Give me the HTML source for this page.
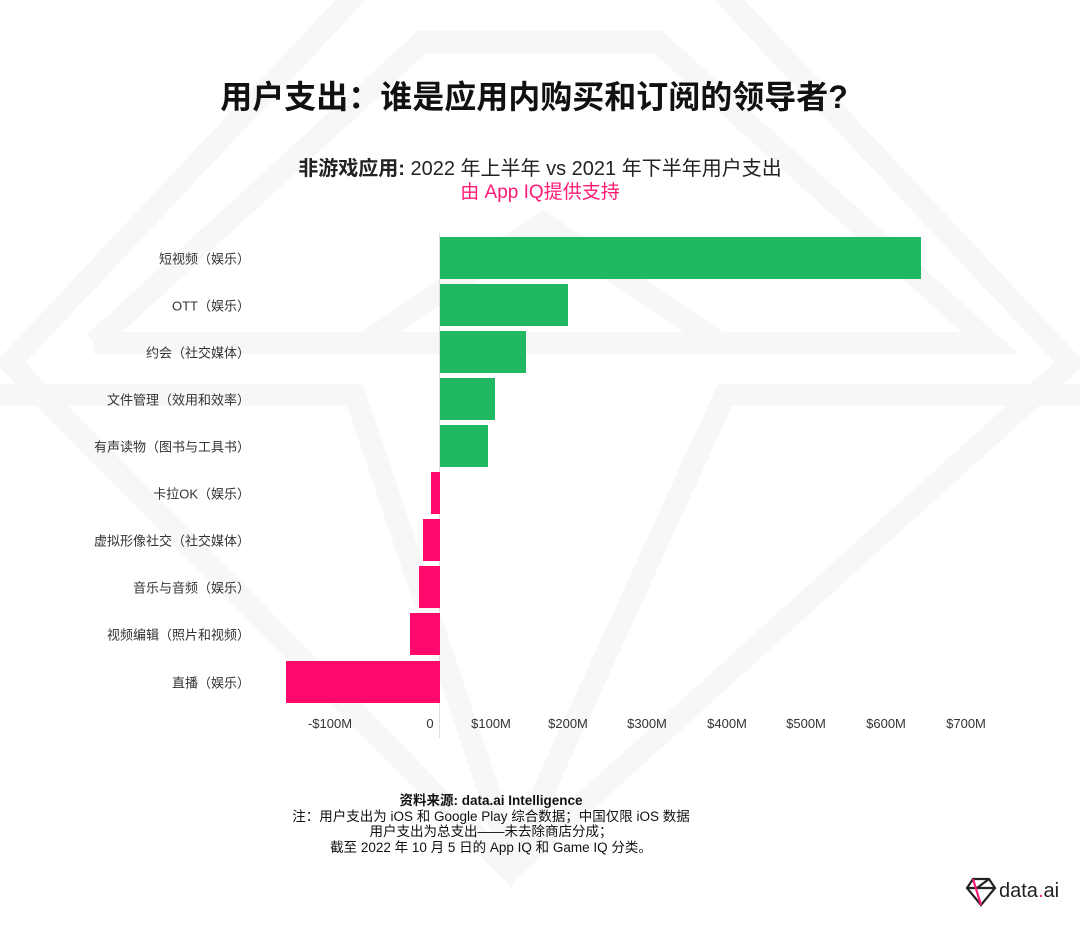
<!DOCTYPE html>
<html><head><meta charset="utf-8"><style>
body{margin:0;background:#fff;}
#c{position:relative;width:1080px;height:926px;overflow:hidden;font-family:"Liberation Sans","Noto Sans CJK SC",sans-serif;color:#222;}
.t{position:absolute;white-space:nowrap;}
.lbl{position:absolute;right:830px;font-size:13px;color:#333;transform:translateY(-50%);}
.bar{position:absolute;height:42px;}
.g{background:#20b962;}.p{background:#ff0a6c;}
.tick{position:absolute;top:716px;font-size:13px;color:#333;transform:translateX(-50%);}
.ft{position:absolute;left:0;width:982px;text-align:center;font-size:13.5px;color:#111;line-height:15.5px;}
</style></head><body><div id="c">
<svg width="1080" height="926" style="position:absolute;left:0;top:0" fill="none" stroke="#f7f7f7" stroke-width="22">
<polyline points="360,-10 10,363 510,870 1070,363 720,-10"/>
<polyline points="94,343 422,42 658,42 990,343 94,343"/>
<polyline points="365,343 543,223 720,343"/>
<polyline points="0,395 355,395 512,860 725,395 1080,395"/>
</svg>
<div class="t" style="left:0;width:1068px;text-align:center;top:72px;font-size:32px;font-weight:bold;color:#111;">用户支出：谁是应用内购买和订阅的领导者?</div>
<div class="t" style="left:0;width:1080px;text-align:center;top:152px;font-size:20px;color:#222;"><b>非游戏应用:</b> 2022 年上半年 vs 2021 年下半年用户支出</div>
<div class="t" style="left:0;width:1080px;text-align:center;top:177px;font-size:19px;color:#ff1a75;">由 App IQ提供支持</div>
<div style="position:absolute;left:439px;top:233px;width:1px;height:505px;background:#ddd"></div>
<div class="bar g" style="left:440px;top:237px;width:481px"></div>
<div class="bar g" style="left:440px;top:284px;width:128px"></div>
<div class="bar g" style="left:440px;top:331px;width:86px"></div>
<div class="bar g" style="left:440px;top:378px;width:55px"></div>
<div class="bar g" style="left:440px;top:425px;width:48px"></div>
<div class="bar p" style="left:431px;top:472px;width:9px"></div>
<div class="bar p" style="left:423px;top:519px;width:17px"></div>
<div class="bar p" style="left:419px;top:566px;width:21px"></div>
<div class="bar p" style="left:410px;top:613px;width:30px"></div>
<div class="bar p" style="left:286px;top:661px;width:154px"></div>
<div class="lbl" style="top:258px">短视频（娱乐）</div>
<div class="lbl" style="top:305px">OTT（娱乐）</div>
<div class="lbl" style="top:352px">约会（社交媒体）</div>
<div class="lbl" style="top:399px">文件管理（效用和效率）</div>
<div class="lbl" style="top:446px">有声读物（图书与工具书）</div>
<div class="lbl" style="top:493px">卡拉OK（娱乐）</div>
<div class="lbl" style="top:540px">虚拟形像社交（社交媒体）</div>
<div class="lbl" style="top:587px">音乐与音频（娱乐）</div>
<div class="lbl" style="top:634px">视频编辑（照片和视频）</div>
<div class="lbl" style="top:682px">直播（娱乐）</div>
<div class="tick" style="left:330px">-$100M</div>
<div class="tick" style="left:430px">0</div>
<div class="tick" style="left:491px">$100M</div>
<div class="tick" style="left:568px">$200M</div>
<div class="tick" style="left:647px">$300M</div>
<div class="tick" style="left:727px">$400M</div>
<div class="tick" style="left:806px">$500M</div>
<div class="tick" style="left:886px">$600M</div>
<div class="tick" style="left:966px">$700M</div>
<div class="ft" style="top:793px"><b>资料来源: data.ai Intelligence</b><br>注：用户支出为 iOS 和 Google Play 综合数据；中国仅限 iOS 数据<br>用户支出为总支出——未去除商店分成；<br>截至 2022 年 10 月 5 日的 App IQ 和 Game IQ 分类。</div>
<svg style="position:absolute;left:965px;top:876px" width="32" height="32" viewBox="0 0 32 32" fill="none" stroke-width="2.2">
<polygon points="8,3 24,3 30,12 16,29 2,12" stroke="#222"/>
<polyline points="2,12 30,12" stroke="#222"/>
<polyline points="8,3 16,29" stroke="#ff1a75"/>
<polyline points="24,3 12,12" stroke="#222"/>
</svg>
<div class="t" style="left:999px;top:880px;font-size:20px;color:#222;">data<span style="color:#ff1a75">.</span>ai</div>
</div></body></html>
